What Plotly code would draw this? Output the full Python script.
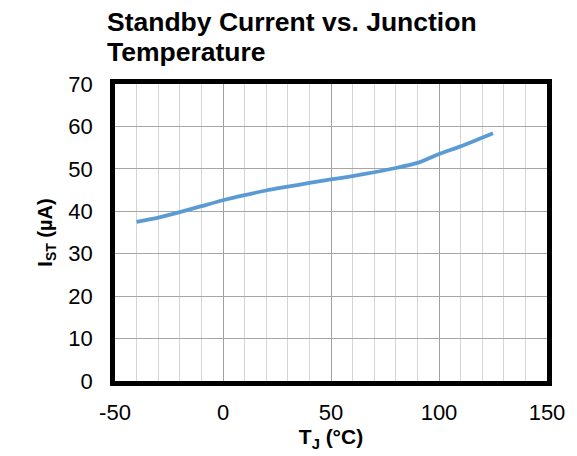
import plotly.graph_objects as go

temp_c = [-40, -30, -20, -10, 0, 10, 20, 30, 40, 50, 60, 70, 80, 90, 100, 110, 125]
i_st_ua = [37.5, 38.5, 39.8, 41.2, 42.6, 43.8, 44.9, 45.8, 46.7, 47.5, 48.3, 49.2, 50.2, 51.4, 53.5, 55.3, 58.4]

x_tick_vals = [-50, 0, 50, 100, 150]
x_tick_text = ["-50", "0", "50", "100", "150"]
y_tick_vals = [0, 10, 20, 30, 40, 50, 60, 70]
y_tick_text = ["0", "10", "20", "30", "40", "50", "60", "70"]

title_lines = ["Standby Current vs. Junction", "Temperature"]
x_title = "T<sub>J</sub> (°C)"
y_title = "I<sub>ST</sub> (µA)"

font_family = "Liberation Sans, Arial, sans-serif"

W, H = 577, 456
L, R, T, B = 115, 27, 84, 75
plot_h = H - T - B
plot_w = W - L - R

def px_to_paper_y(p):
    return (H - B - p) / plot_h

def px_to_paper_x(p):
    return (p - L) / plot_w

fig = go.Figure()
fig.add_trace(go.Scatter(
    x=temp_c, y=i_st_ua, mode="lines",
    line=dict(color="#5B9BD5", width=3.8, shape="spline", smoothing=0.6),
    showlegend=False, hoverinfo="skip"))

annotations = []
for i, line in enumerate(title_lines):
    annotations.append(dict(
        text="<b>" + line + "</b>", xref="paper", yref="paper",
        x=px_to_paper_x(105), xanchor="left",
        y=px_to_paper_y(22 + 29.5 * i), yanchor="middle",
        showarrow=False, font=dict(size=26.5, family=font_family, color="black")))

fig.update_layout(
    width=W, height=H,
    margin=dict(l=L, r=R, t=T, b=B),
    paper_bgcolor="white", plot_bgcolor="white",
    font=dict(family=font_family, color="black", size=22),
    annotations=annotations,
)

fig.update_xaxes(
    range=[-50, 150], tickmode="array", tickvals=x_tick_vals, ticktext=x_tick_text,
    showgrid=True, gridcolor="#a0a0a0", gridwidth=1,
    minor=dict(dtick=10, tick0=-50, showgrid=True, gridcolor="#d4d4d4", gridwidth=1),
    showline=True, linecolor="black", linewidth=4.5, mirror=True,
    ticks="outside", ticklen=8, tickcolor="rgba(0,0,0,0)",
    zeroline=False, tickfont=dict(size=22),
    title=dict(text="<b>" + x_title + "</b>", font=dict(size=21), standoff=4),
)
fig.update_yaxes(
    range=[0, 70], tickmode="array", tickvals=y_tick_vals, ticktext=y_tick_text,
    showgrid=True, gridcolor="#a6a6a6", gridwidth=1,
    showline=True, linecolor="black", linewidth=4.5, mirror=True,
    ticks="outside", ticklen=13, tickcolor="rgba(0,0,0,0)",
    zeroline=False, tickfont=dict(size=22),
    title=dict(text="<b>" + y_title + "</b>", font=dict(size=20), standoff=12),
)

fig.write_html("out.html")
